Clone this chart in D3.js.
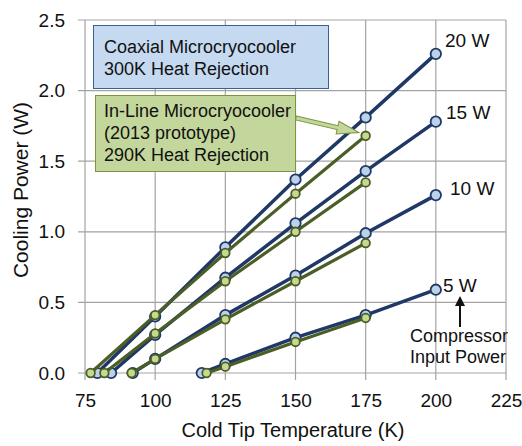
<!DOCTYPE html>
<html>
<head>
<meta charset="utf-8">
<script src="https://cdn.jsdelivr.net/npm/d3@7"></script>
<style>
  body { margin: 0; background: #fff; }
  text { font-family: "Liberation Sans", Arial, sans-serif; fill: #111; }
</style>
</head>
<body>
<svg id="chart" width="522" height="446"></svg>
<script>
// axis ticks
let xTicks = [75, 100, 125, 150, 175, 200, 225];
let yTicks = [0, 0.5, 1.0, 1.5, 2.0, 2.5];

// Coaxial microcryocooler (300K rejection)
let coaxT20 = [79.4, 100, 125, 150, 175, 200];
let coaxP20 = [0, 0.40, 0.89, 1.37, 1.81, 2.26];
let coaxT15 = [84.3, 100, 125, 150, 175, 200];
let coaxP15 = [0, 0.27, 0.675, 1.06, 1.43, 1.78];
let coaxT10 = [92, 100, 125, 150, 175, 200];
let coaxP10 = [0, 0.10, 0.41, 0.69, 0.99, 1.26];
let coaxT5 = [116.6, 125, 150, 175, 200];
let coaxP5 = [0, 0.064, 0.25, 0.41, 0.59];

// In-line microcryocooler (2013 prototype, 290K rejection)
let inT20 = [77.0, 100, 125, 150, 175];
let inP20 = [0, 0.41, 0.85, 1.27, 1.68];
let inT15 = [81.9, 100, 125, 150, 175];
let inP15 = [0, 0.28, 0.65, 1.00, 1.35];
let inT10 = [91.6, 100, 125, 150, 175];
let inP10 = [0, 0.10, 0.38, 0.65, 0.92];
let inT5 = [118.3, 125, 150, 175];
let inP5 = [0, 0.045, 0.22, 0.39];

let powerLabels = ["20 W", "15 W", "10 W", "5 W"];

let svg = d3.select("#chart");
let x = d3.scaleLinear().domain([75, 225]).range([85, 506]);
let y = d3.scaleLinear().domain([0, 2.5]).range([373, 20]);

// Grid
let grid = svg.append("g");
grid.selectAll(".vg").data(xTicks).enter().append("line")
    .attr("x1", d => x(d)).attr("x2", d => x(d))
    .attr("y1", y(0) + 7).attr("y2", y(2.5))
    .attr("stroke", "#a3a3a3").attr("stroke-width", 1.2);
grid.selectAll(".hg").data(yTicks).enter().append("line")
    .attr("x1", x(75) - 7).attr("x2", x(225))
    .attr("y1", d => y(d)).attr("y2", d => y(d))
    .attr("stroke", "#a3a3a3").attr("stroke-width", 1.2);

// Axes (labels only, grid gives the ticks)
let xAxis = svg.append("g").attr("transform", `translate(0,${y(0)})`)
    .call(d3.axisBottom(x).tickValues(xTicks).tickSize(0).tickPadding(21).tickFormat(d3.format("d")));
let yAxis = svg.append("g").attr("transform", `translate(${x(75)},0)`)
    .call(d3.axisLeft(y).tickValues(yTicks).tickSize(0).tickPadding(20).tickFormat(d3.format(".1f")));
[xAxis, yAxis].forEach(a => {
    a.select(".domain").remove();
    a.selectAll("text").attr("font-size", 19).style("font-family", "'Liberation Sans', Arial, sans-serif").attr("fill", "#111");
});

svg.append("text").attr("x", 293).attr("y", 437).attr("text-anchor", "middle")
    .attr("font-size", 20).text("Cold Tip Temperature (K)");
svg.append("text").attr("transform", "translate(28,190) rotate(-90)").attr("text-anchor", "middle")
    .attr("font-size", 21).text("Cooling Power (W)");

// Series
let line = d3.line().x(d => x(d[0])).y(d => y(d[1]));
let zip = (t, p) => t.map((d, i) => [d, p[i]]);

let coaxSeries = [zip(coaxT20, coaxP20), zip(coaxT15, coaxP15), zip(coaxT10, coaxP10), zip(coaxT5, coaxP5)];
let inSeries = [zip(inT20, inP20), zip(inT15, inP15), zip(inT10, inP10), zip(inT5, inP5)];

function drawSeries(series, lineColor, lineW, fill, r) {
    series.forEach(s => {
        svg.append("path").datum(s).attr("d", line)
            .attr("fill", "none").attr("stroke", lineColor).attr("stroke-width", lineW);
    });
    series.forEach(s => {
        svg.append("g").selectAll("circle").data(s).enter().append("circle")
            .attr("cx", d => x(d[0])).attr("cy", d => y(d[1])).attr("r", r)
            .attr("fill", fill).attr("stroke", lineColor).attr("stroke-width", 1.8);
    });
}
drawSeries(coaxSeries, "#1f3866", 3.5, "#bcd1ea", 5.2);
drawSeries(inSeries, "#4b5e26", 3.2, "#c5d98f", 4.3);

// power labels
let labelPos = [[445, 47], [446, 119], [450, 195], [443, 292]];
powerLabels.forEach((t, i) => {
    svg.append("text").attr("x", labelPos[i][0]).attr("y", labelPos[i][1])
        .attr("font-size", 19).text(t);
});

// compressor note
svg.append("line").attr("x1", 460).attr("x2", 460).attr("y1", 327).attr("y2", 302)
    .attr("stroke", "#111").attr("stroke-width", 2);
svg.append("path").attr("d", "M460,296 L455,306 L465,306 Z").attr("fill", "#111");
svg.append("text").attr("x", 410).attr("y", 342).attr("font-size", 18).text("Compressor");
svg.append("text").attr("x", 410).attr("y", 363).attr("font-size", 18).text("Input Power");

// Coaxial box
svg.append("rect").attr("x", 93.5).attr("y", 25.5).attr("width", 235).attr("height", 63)
    .attr("fill", "#c5d9f0").attr("stroke", "#3d5f8c").attr("stroke-width", 1);
svg.append("text").attr("x", 104).attr("y", 53).attr("font-size", 18).text("Coaxial Microcryocooler");
svg.append("text").attr("x", 104).attr("y", 75).attr("font-size", 18).text("300K Heat Rejection");

// In-line box
svg.append("rect").attr("x", 95.5).attr("y", 95.5).attr("width", 200).attr("height", 76)
    .attr("fill", "#c3d69b").attr("stroke", "#7a9440").attr("stroke-width", 1);
svg.append("text").attr("x", 104).attr("y", 117).attr("font-size", 18).text("In-Line Microcryocooler");
svg.append("text").attr("x", 104).attr("y", 139).attr("font-size", 18).text("(2013 prototype)");
svg.append("text").attr("x", 104).attr("y", 161).attr("font-size", 18).text("290K Heat Rejection");

// block arrow from box to in-line 20 W point
let ax0 = 296, ay0 = 118, ax1 = 359, ay1 = 132.5;
let ang = Math.atan2(ay1 - ay0, ax1 - ax0) * 180 / Math.PI;
let len = Math.hypot(ax1 - ax0, ay1 - ay0);
svg.append("path")
    .attr("transform", `translate(${ax0},${ay0}) rotate(${ang})`)
    .attr("d", `M0,-2 L${len - 22},-2 L${len - 22},-6.5 L${len},0 L${len - 22},6.5 L${len - 22},2 L0,2 Z`)
    .attr("fill", "#c3d69b").attr("stroke", "#7a9440").attr("stroke-width", 1);
</script>
</body>
</html>
